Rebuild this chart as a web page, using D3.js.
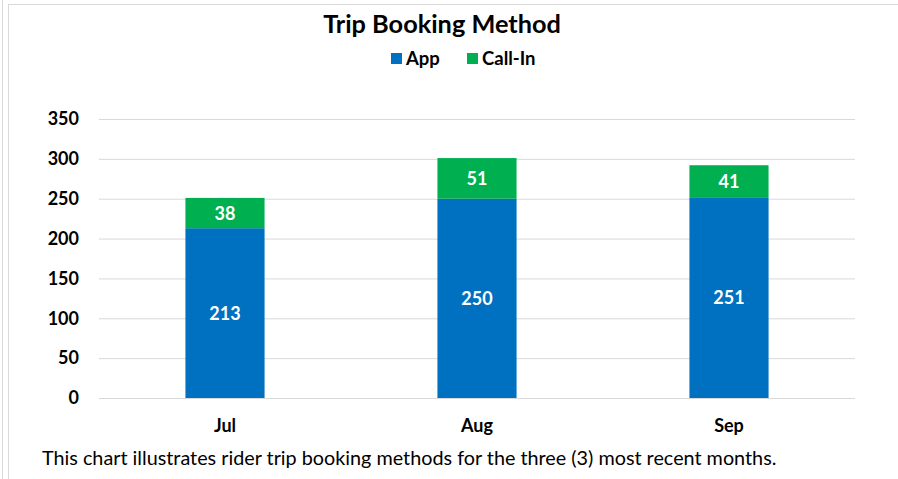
<!DOCTYPE html>
<html>
<head>
<meta charset="utf-8">
<script src="https://cdn.jsdelivr.net/npm/d3@7"></script>
<style>
  html, body { margin: 0; padding: 0; background: #fff; }
  svg { display: block; font-family: Lato, "Open Sans", sans-serif; }
</style>
</head>
<body>
<svg id="chart" width="898" height="479"></svg>
<script>
// Monthly trip counts by booking method
const months = ["Jul", "Aug", "Sep"];
const appTrips = [213, 250, 251];
const callInTrips = [38, 51, 41];
const seriesNames = ["App", "Call-In"];
const seriesColors = ["#0070C0", "#00B050"];
const yTicks = [0, 50, 100, 150, 200, 250, 300, 350];

const svg = d3.select("#chart");
const W = 898, H = 479;
const FONT = "Lato, 'Open Sans', sans-serif";

// frame lines
svg.append("line").attr("x1", 2.5).attr("x2", 2.5).attr("y1", 0).attr("y2", H)
  .attr("stroke", "#d9d9d9").attr("stroke-width", 1);
svg.append("line").attr("x1", 8.5).attr("x2", 8.5).attr("y1", 4).attr("y2", H)
  .attr("stroke", "#d9d9d9").attr("stroke-width", 1);
svg.append("line").attr("x1", 8).attr("x2", W).attr("y1", 4.5).attr("y2", 4.5)
  .attr("stroke", "#d9d9d9").attr("stroke-width", 1);

const plot = { left: 99, right: 855, top: 119, bottom: 398 };

const x = d3.scaleBand().domain(months).range([plot.left, plot.right]).paddingInner(0.686).paddingOuter(0.343);
const y = d3.scaleLinear().domain([0, 350]).range([plot.bottom, plot.top]);

// gridlines
svg.append("g")
  .attr("transform", `translate(${plot.left},0)`)
  .call(d3.axisLeft(y).tickValues(yTicks).tickSize(-(plot.right - plot.left)).tickFormat(""))
  .call(g => g.select(".domain").remove())
  .call(g => g.selectAll("line").attr("stroke", "#d9d9d9").attr("stroke-width", 1));

// y tick labels
svg.append("g")
  .attr("transform", `translate(79,0)`)
  .call(d3.axisLeft(y).tickValues(yTicks).tickSize(0).tickPadding(0))
  .call(g => g.select(".domain").remove())
  .call(g => g.selectAll("text")
    .attr("font-family", FONT)
    .attr("font-size", 18).attr("font-weight", "bold").attr("fill", "#000"));

// stacked bars
const rows = months.map((m, i) => ({ month: m, App: appTrips[i], "Call-In": callInTrips[i] }));
const stacked = d3.stack().keys(seriesNames)(rows);

const layers = svg.append("g").selectAll("g").data(stacked).join("g")
  .attr("fill", (d, i) => seriesColors[i]);

layers.selectAll("rect").data(d => d).join("rect")
  .attr("x", d => x(d.data.month))
  .attr("width", x.bandwidth())
  .attr("y", d => y(d[1]))
  .attr("height", d => y(d[0]) - y(d[1]));

// value labels inside segments
layers.selectAll("text").data(d => d).join("text")
  .attr("x", d => x(d.data.month) + x.bandwidth() / 2)
  .attr("y", d => (y(d[0]) + y(d[1])) / 2)
  .attr("dy", "0.36em")
  .attr("text-anchor", "middle")
  .attr("fill", "#fff")
  .attr("font-size", 18).attr("font-weight", "bold")
  .text(d => d[1] - d[0]);

// x axis labels
svg.append("g")
  .attr("transform", `translate(0,${plot.bottom})`)
  .call(d3.axisBottom(x).tickSize(0).tickPadding(21))
  .call(g => g.select(".domain").remove())
  .call(g => g.selectAll("text")
    .attr("font-family", FONT)
    .attr("font-size", 18).attr("font-weight", "bold").attr("fill", "#000"));

// title
svg.append("text")
  .attr("x", 442).attr("y", 33)
  .attr("text-anchor", "middle")
  .attr("font-size", 25.3).attr("font-weight", "bold").attr("fill", "#000")
  .text("Trip Booking Method");

// legend
const legendItems = [{ name: seriesNames[0], color: seriesColors[0], x: 391 },
                     { name: seriesNames[1], color: seriesColors[1], x: 467 }];
const lg = svg.append("g").selectAll("g").data(legendItems).join("g")
  .attr("transform", d => `translate(${d.x},0)`);
lg.append("rect").attr("x", 0).attr("y", 53).attr("width", 11).attr("height", 11)
  .attr("fill", d => d.color);
lg.append("text").attr("x", 15).attr("y", 65)
  .attr("font-size", 18.5).attr("font-weight", "bold").attr("fill", "#000")
  .text(d => d.name);

// caption
svg.append("text")
  .attr("x", 42).attr("y", 465)
  .attr("font-size", 19.8).attr("fill", "#000")
  .text("This chart illustrates rider trip booking methods for the three (3) most recent months.");
</script>
</body>
</html>
